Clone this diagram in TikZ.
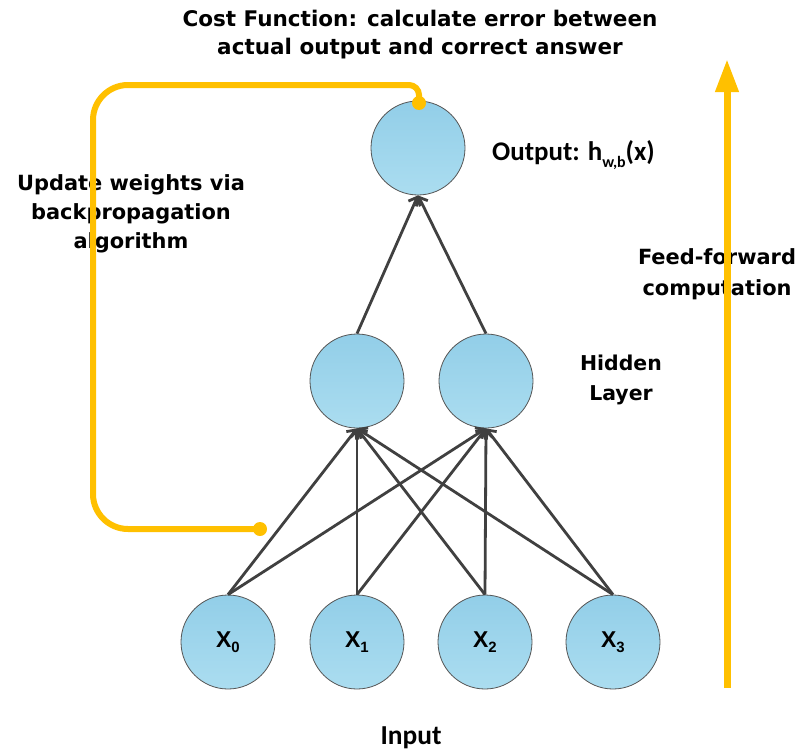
\documentclass[tikz,border=0pt]{standalone}
\usepackage{fontspec}
\setmainfont{DejaVu Sans}
\newfontfamily\calfont{Carlito}
\newfontfamily\arialfont{Liberation Sans}
\usetikzlibrary{arrows.meta}

\definecolor{gold}{HTML}{FFC000}
\definecolor{edgegray}{HTML}{404040}
\definecolor{rimgray}{HTML}{555555}
\definecolor{bluetop}{HTML}{92CEE8}
\definecolor{bluebot}{HTML}{ABDDF0}

\tikzset{
  neuron/.style={circle, minimum size=94bp, inner sep=0pt, draw=rimgray,
    line width=0.8bp, top color=bluetop, bottom color=bluebot,
    font=\arialfont\bfseries\fontsize{23}{24}\selectfont},
  link/.style={draw=edgegray, line width=2.8bp,
    -{Straight Barb[length=7bp,width=13bp,line width=2.8bp]}},
  lbl/.style={font=\bfseries\fontsize{21}{29}\selectfont, align=center, inner sep=0pt},
  cal/.style={font=\calfont\bfseries\fontsize{27}{30}\selectfont, inner sep=0pt},
  loop/.style={draw=gold, line width=6bp},
  flow/.style={draw=gold, line width=7bp, -{Triangle[length=33bp,width=22bp]}},
  knob/.style={fill=gold, draw=none}
}
\newcommand{\xin}[1]{X\raisebox{-0.2em}{\fontsize{15}{15}\selectfont #1}}

\begin{document}
\begin{tikzpicture}[x=1bp,y=-1bp]
\useasboundingbox (0,0) rectangle (803,753);

% neurons
\node[neuron] (out) at (418,148) {};
\node[neuron] (h1) at (357,381) {};
\node[neuron] (h2) at (486,381) {};
\node[neuron] (x0) at (228,642) {\xin{0}};
\node[neuron] (x1) at (357,642) {\xin{1}};
\node[neuron] (x2) at (485,642) {\xin{2}};
\node[neuron] (x3) at (613,642) {\xin{3}};

% connections: input -> hidden -> output
\foreach \i in {0,1,2,3}{
  \foreach \j in {1,2}{
    \draw[link] (x\i.north) -- (h\j.south);
  }
}
\draw[link] (h1.north) -- (out.south);
\draw[link] (h2.north) -- (out.south);

% labels
\node[lbl, font=\bfseries\fontsize{21.6}{28}\selectfont] (title) at (420,35) {Cost Function: calculate error between\\actual output and correct answer};
\node[lbl] (update) at (131,214) {Update weights via\\backpropagation\\algorithm};
\node[lbl, font=\bfseries\fontsize{21}{31}\selectfont] (feed) at (717,274) {Feed-forward\\computation};
\node[lbl, font=\bfseries\fontsize{20.5}{30}\selectfont] (hidden) at (621,380) {Hidden\\Layer};
\node[cal, anchor=west] (outlbl) at (492,155) {Output: h\raisebox{-0.25em}{\fontsize{16}{16}\selectfont w,b}(x)};
\node[cal, font=\calfont\bfseries\fontsize{27.5}{28}\selectfont] (inlbl) at (411,738) {Input};

% backpropagation loop
\coordinate (fbTop) at (419,103);
\coordinate (fbBot) at (260,529);
\draw[loop] (fbTop) -- (419,95) .. controls (419,89.5) and (414.5,85) .. (409,85)
  -- (128,85) .. controls (108.7,85) and (93,100.7) .. (93,120)
  -- (93,494) .. controls (93,513.3) and (108.7,529) .. (128,529)
  -- (fbBot);
\fill[knob] (fbTop) circle (7bp);
\fill[knob] (fbBot) circle (7bp);

% feed-forward arrow
\coordinate (ffStart) at (727,688);
\coordinate (ffEnd) at (727,59);
\draw[flow] (ffStart) -- (ffEnd);
\end{tikzpicture}
\end{document}
